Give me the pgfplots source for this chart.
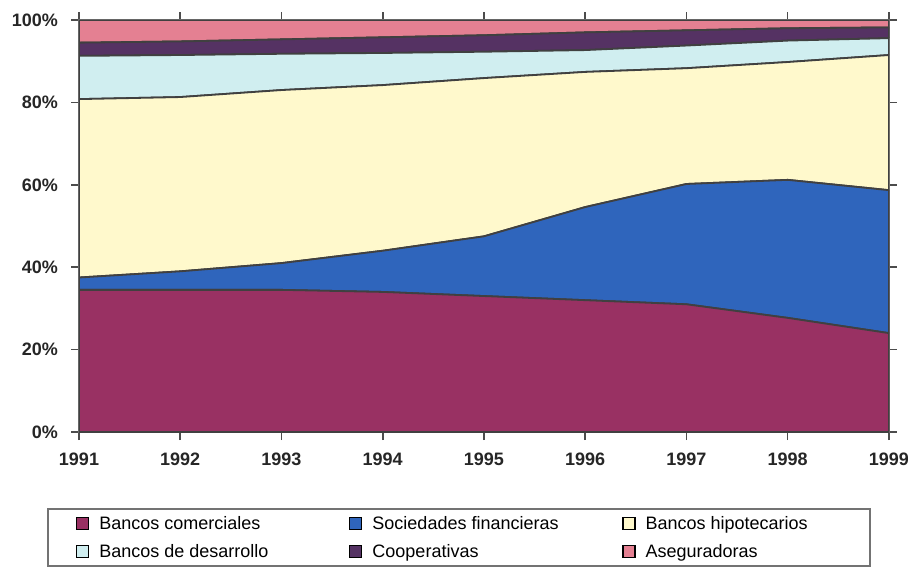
\documentclass[border=0pt]{standalone}
\usepackage{pgfplots}
\pgfplotsset{compat=1.18}
\usepackage{fontspec}
\setmainfont{Liberation Sans}
\definecolor{cplum}{HTML}{993163}
\definecolor{cblue}{HTML}{2F65BC}
\definecolor{civory}{HTML}{FFF9CC}
\definecolor{ccyan}{HTML}{D0EEF0}
\definecolor{cpurple}{HTML}{553263}
\definecolor{ccoral}{HTML}{E48092}
\newcommand{\lt}[2]{\makebox[#1][l]{\hspace{5pt}\strut #2}}
\begin{document}
\begin{tikzpicture}[x=1pt,y=1pt]
\path[use as bounding box] (0,0) rectangle (454,285);
\begin{axis}[
  at={(39.5pt,69pt)}, anchor=south west,
  scale only axis, width=405pt, height=206pt,
  xmin=1991, xmax=1999, ymin=0, ymax=100,
  stack plots=y, area style,
  xtick={1991,...,1999}, ytick={0,20,...,100},
  /pgf/number format/assume math mode=true,
  /pgf/number format/1000 sep={},
  yticklabel={\pgfmathprintnumber{\tick}\%},
  tick label style={font=\bfseries\fontsize{9}{10.8}\selectfont, black!85},
  xticklabel style={yshift=-3pt},
  yticklabel style={xshift=-3pt},
  tick align=outside, major tick length=4pt,
  tick style={black!70, line width=0.8pt},
  axis line style={black!60, line width=0.8pt},
  axis on top=false,
  legend columns=3,
  legend image code/.code={\draw[#1,draw=black,line width=0.6pt] (0pt,-3pt) rectangle (6pt,3pt);},
  legend style={at={(axis description cs:0.469,-0.256)}, anchor=center,
    draw=black!55, line width=1pt, fill=white,
    font=\fontsize{9}{10.8}\selectfont,
    nodes={inner sep=0pt},
    inner xsep=14pt, inner ysep=2.6pt,
    column sep=0pt, row sep=5.2pt},
]
\addplot[fill=cplum, draw=black!75, line width=0.9pt] coordinates {
(1991,34.5) (1992,34.5) (1993,34.5) (1994,34) (1995,33) (1996,32) (1997,31) (1998,27.7) (1999,24)} \closedcycle;
\addlegendentry{\lt{130pt}{Bancos comerciales}}
\addplot[fill=cblue, draw=black!75, line width=0.9pt] coordinates {
(1991,3.0) (1992,4.5) (1993,6.5) (1994,10.0) (1995,14.5) (1996,22.6) (1997,29.2) (1998,33.5) (1999,34.7)} \closedcycle;
\addlegendentry{\lt{130pt}{Sociedades financieras}}
\addplot[fill=civory, draw=black!75, line width=0.9pt] coordinates {
(1991,43.3) (1992,42.3) (1993,42.0) (1994,40.2) (1995,38.4) (1996,32.8) (1997,28.1) (1998,28.6) (1999,32.8)} \closedcycle;
\addlegendentry{\lt{103pt}{Bancos hipotecarios}}
\addplot[fill=ccyan, draw=black!75, line width=0.9pt] coordinates {
(1991,10.5) (1992,10.2) (1993,8.8) (1994,7.8) (1995,6.4) (1996,5.3) (1997,5.5) (1998,5.2) (1999,4.1)} \closedcycle;
\addlegendentry{\lt{130pt}{Bancos de desarrollo}}
\addplot[fill=cpurple, draw=black!75, line width=0.9pt] coordinates {
(1991,3.2) (1992,3.3) (1993,3.5) (1994,3.8) (1995,4.0) (1996,4.3) (1997,3.7) (1998,3.0) (1999,2.6)} \closedcycle;
\addlegendentry{\lt{130pt}{Cooperativas}}
\addplot[fill=ccoral, draw=black!75, line width=0.9pt] coordinates {
(1991,5.5) (1992,5.2) (1993,4.7) (1994,4.2) (1995,3.7) (1996,3.0) (1997,2.5) (1998,2.0) (1999,1.8)} \closedcycle;
\addlegendentry{\lt{103pt}{Aseguradoras}}
\end{axis}
\end{tikzpicture}
\end{document}
